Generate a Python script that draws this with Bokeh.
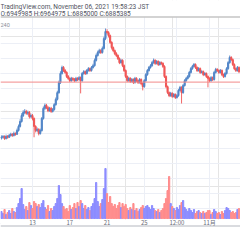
from bokeh.plotting import figure
from bokeh.models import (Range1d, FixedTicker, Span, Label, BoxAnnotation, ColumnDataSource, Grid)
from bokeh.core.properties import value
from bokeh.embed import file_html
from bokeh.resources import INLINE

# ---- data (prices in thousand JPY, 4h candles from Oct 9 16:00; time in days from Oct 13 00:00)
start_day = -10 / 3
candle_hours = 4
first_open = 6140
closes = [
    6150, 6160, 6135, 6160, 6150, 6175, 6190, 6175, 6200, 6190,
    6240, 6295, 6360, 6440, 6480, 6495, 6470, 6480, 6425, 6440,
    6400, 6295, 6240, 6255, 6200, 6240, 6400, 6535, 6575, 6545,
    6505, 6535, 6495, 6520, 6585, 6655, 6745, 6880, 7000, 7080,
    7040, 7015, 6960, 6935, 6905, 6935, 6920, 6905, 6935, 6920,
    6945, 6905, 7000, 7025, 7000, 7040, 7065, 7040, 7080, 7105,
    7175, 7240, 7280, 7305, 7280, 7335, 7465, 7560, 7545, 7505,
    7415, 7345, 7305, 7265, 7240, 7200, 7145, 7175, 7105, 7040,
    6960, 6905, 6935, 6895, 6920, 6880, 6935, 6905, 6880, 6920,
    6865, 6825, 6905, 6985, 7040, 7080, 7105, 7145, 7175, 7135,
    7160, 7120, 7145, 7135, 7095, 6960, 6825, 6745, 6705, 6735,
    6695, 6720, 6680, 6705, 6775, 6815, 6745, 6840, 6905, 6935,
    6960, 7015, 7065, 7095, 7120, 7080, 7040, 7065, 7015, 7025,
    6985, 7000, 6960, 6935, 6905, 6945, 6920, 7015, 7055, 7040,
    7015, 7040, 6985, 6960, 7000, 7065, 7145, 7215, 7185, 7120,
    7065, 7040, 7080, 7025,
]
highs = [
    6175, 6180, 6175, 6185, 6180, 6195, 6210, 6205, 6225, 6215,
    6265, 6320, 6390, 6470, 6510, 6525, 6515, 6505, 6500, 6465,
    6460, 6415, 6310, 6280, 6270, 6265, 6420, 6560, 6600, 6595,
    6565, 6555, 6555, 6540, 6605, 6680, 6770, 6905, 7030, 7105,
    7100, 7060, 7030, 6980, 6950, 6955, 6950, 6940, 6955, 6950,
    6965, 6960, 7020, 7045, 7040, 7060, 7085, 7080, 7100, 7130,
    7200, 7265, 7305, 7330, 7325, 7360, 7490, 7600, 7590, 7565,
    7520, 7430, 7360, 7320, 7285, 7255, 7215, 7195, 7190, 7120,
    7055, 6975, 6955, 6950, 6940, 6935, 6955, 6950, 6920, 6940,
    6935, 6880, 6925, 7005, 7060, 7100, 7125, 7165, 7200, 7190,
    7180, 7175, 7165, 7160, 7150, 7110, 6975, 6840, 6760, 6755,
    6750, 6740, 6735, 6725, 6795, 6835, 6830, 6860, 6925, 6955,
    6980, 7035, 7085, 7115, 7140, 7135, 7095, 7085, 7080, 7045,
    7040, 7020, 7015, 6975, 6950, 6965, 6960, 7035, 7075, 7070,
    7055, 7060, 7055, 7000, 7020, 7085, 7165, 7240, 7230, 7200,
    7135, 7080, 7100, 7095,
]
lows = [
    6120, 6130, 6115, 6120, 6130, 6140, 6160, 6155, 6160, 6170,
    6180, 6225, 6280, 6345, 6420, 6460, 6450, 6445, 6400, 6405,
    6375, 6150, 6215, 6220, 6175, 6185, 6225, 6385, 6515, 6525,
    6485, 6490, 6475, 6480, 6505, 6570, 6640, 6730, 6860, 6985,
    7020, 6995, 6940, 6915, 6885, 6890, 6900, 6885, 6890, 6900,
    6905, 6735, 6890, 6985, 6980, 6985, 7025, 7020, 7025, 7065,
    7090, 7160, 7225, 7265, 7260, 7265, 7320, 7445, 7520, 7480,
    7395, 7320, 7285, 7245, 7220, 7180, 7125, 7130, 7085, 7020,
    6940, 6885, 6890, 6875, 6880, 6860, 6865, 6885, 6860, 6865,
    6845, 6775, 6810, 6890, 6970, 7025, 7065, 7090, 7130, 7115,
    7120, 7100, 7105, 7115, 7075, 6940, 6805, 6725, 6685, 6690,
    6675, 6680, 6660, 6665, 6690, 6760, 6600, 6730, 6825, 6890,
    6920, 6945, 7000, 7050, 7080, 7060, 7020, 7025, 6995, 7000,
    6965, 6970, 6940, 6815, 6885, 6890, 6900, 6905, 7000, 7020,
    6995, 7000, 6965, 6940, 6945, 6985, 7050, 7130, 7165, 7100,
    7045, 7020, 7025, 7005,
]
volumes = [
    14, 10, 18, 8, 12, 16, 10, 20, 14, 12,
    22, 30, 40, 60, 28, 18, 24, 16, 32, 26,
    20, 34, 30, 24, 28, 22, 30, 36, 22, 18,
    26, 14, 20, 16, 24, 30, 40, 66, 48, 30,
    24, 18, 20, 14, 26, 18, 22, 30, 20, 32,
    24, 36, 30, 20, 26, 18, 22, 16, 24, 30,
    40, 72, 34, 24, 30, 38, 60, 100, 50, 32,
    44, 30, 24, 28, 20, 26, 32, 22, 30, 24,
    28, 20, 16, 22, 18, 30, 16, 20, 14, 18,
    22, 26, 20, 24, 26, 22, 18, 26, 20, 16,
    14, 18, 12, 16, 20, 30, 40, 56, 84, 30,
    24, 20, 16, 22, 18, 26, 32, 36, 22, 18,
    14, 20, 16, 12, 18, 10, 14, 16, 12, 10,
    14, 10, 12, 16, 16, 8, 12, 18, 14, 10,
    12, 8, 14, 10, 16, 22, 20, 16, 12, 14,
    10, 12, 18, 20,
]
tick_days = [0, 4, 8, 12, 15.5, 19]
tick_labels = ["13", "17", "21", "25", "12:00", "11月"]
price_grid = [5000, 5200, 5400, 5600, 5800, 6000, 6200, 6400, 6600, 6800, 7000, 7200, 7400, 7600]
last_price = 6885.385
header1 = "TradingView.com, November 06, 2021 19:58:23 JST"
header2 = "O:6949985 H:6964975 L:6885000 C:6885385"
corner_text = "240"

# ---- build (frame = whole 240x240 canvas; px range gives canvas pixel positions, top-left origin)
H = 240
PX_PER_200K = 15
def price_at(py):  # price (k JPY) drawn at canvas pixel row py; 7,000k sits on row 73
    return 7000 + (73 - py) * 200 / PX_PER_200K

opens = [first_open] + closes[:-1]
n = len(closes)
times = [start_day + i * candle_hours / 24 for i in range(n)]
UP, DOWN = "#5286c8", "#f05656"
VUP, VDOWN = "#8c8cff", "#ff8c8c"
up = [c >= o for o, c in zip(opens, closes)]
src = ColumnDataSource(dict(
    t=times, o=opens, c=closes, h=highs, l=lows, v=volumes,
    top=[max(o, c) for o, c in zip(opens, closes)],
    bot=[min(o, c) for o, c in zip(opens, closes)],
    col=[UP if u else DOWN for u in up],
    vcol=[VUP if u else VDOWN for u in up],
))

p = figure(width=240, height=H, output_backend="svg", toolbar_location=None,
           x_range=Range1d(-32 / 9.316, 208 / 9.316),
           y_range=Range1d(price_at(H), price_at(0)),
           x_axis_location=None, y_axis_location=None,
           min_border_left=0, min_border_right=0, min_border_top=0, min_border_bottom=0)
p.outline_line_color = None
p.background_fill_color = "white"
p.border_fill_color = "white"
# volume: base on row 218, 2 units per pixel
p.extra_y_ranges = {"vol": Range1d(-(H - 218) * 2, -(H - 218) * 2 + H * 2), "px": Range1d(H, 0)}
p.extra_x_ranges = {"px": Range1d(0, 240)}

GRID = "#eceff6"
p.add_layout(Grid(dimension=0, ticker=FixedTicker(ticks=tick_days), grid_line_color=GRID))
p.add_layout(Grid(dimension=1, ticker=FixedTicker(ticks=price_grid), grid_line_color=GRID))
# time-scale strip (white) below the pane
p.add_layout(BoxAnnotation(top=price_at(219), fill_color="white", fill_alpha=1, line_alpha=0, level="underlay"))

# volume
p.vbar(x="t", top="v", bottom=0, width=0.13, color="vcol", y_range_name="vol", source=src)
# last price line
p.add_layout(Span(location=last_price, dimension="width", line_color="#f28a8a", line_width=1))
# candles
p.segment(x0="t", y0="h", x1="t", y1="l", line_color="col", line_width=0.9, source=src)
p.vbar(x="t", top="top", bottom="bot", width=0.12, color="col", source=src)

# time-scale labels and bottom border
p.text(x=tick_days, y=[222] * len(tick_days), text=tick_labels, y_range_name="px",
       text_font=value("Noto Sans CJK JP"), text_font_size="6px", text_color="#6a6d78",
       text_align="center", text_baseline="middle")
p.add_layout(Span(location=225.5, dimension="width", y_range_name="px", line_color="#b4b7bf", line_width=1))

# header
p.add_layout(BoxAnnotation(bottom=price_at(16.5), fill_color="white", fill_alpha=1, line_alpha=0))
p.add_layout(Span(location=16.5, dimension="width", y_range_name="px", line_color="#c4c4c4", line_width=1.5))
p.add_layout(Label(x=0, y=6, x_range_name="px", y_range_name="px", text=header1,
                   text_font="Roboto", text_font_size="6.5px", text_color="#50535e", text_baseline="middle"))
p.add_layout(Label(x=0, y=13.3, x_range_name="px", y_range_name="px", text=header2,
                   text_font="Roboto", text_font_size="6.5px", text_color="#50535e", text_baseline="middle"))
p.add_layout(Label(x=0, y=24.5, x_range_name="px", y_range_name="px", text=corner_text,
                   text_font="Roboto", text_font_size="5.5px", text_color="#8a8d96", text_baseline="middle"))

open("out.html", "w").write(file_html(p, INLINE))
